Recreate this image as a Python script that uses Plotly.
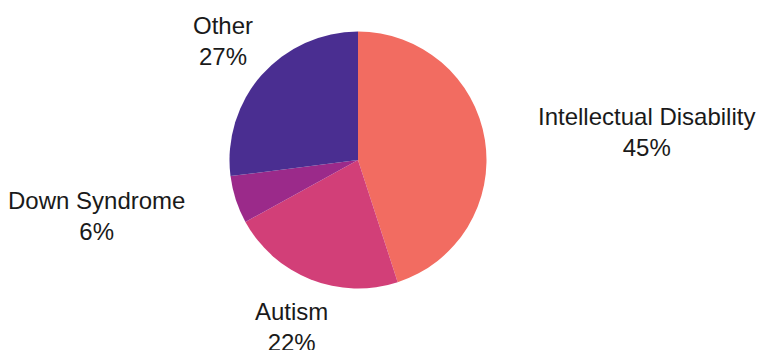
import math
import plotly.graph_objects as go

labels = ["Intellectual Disability", "Autism", "Down Syndrome", "Other"]
values = [45, 22, 6, 27]
colors = ["#F26C61", "#D23F78", "#9B2A8A", "#4A2E91"]

W, H = 757, 350
cx, cy, r = 358, 160, 128.5
label_r = 180
font = dict(family="Liberation Sans, Arial, sans-serif", size=24, color="#1a1a1a")

fig = go.Figure(go.Pie(
    labels=labels, values=values, sort=False, direction="clockwise", rotation=0,
    marker=dict(colors=colors, line=dict(width=0)), textinfo="none",
    hoverinfo="label+percent", showlegend=False,
    domain=dict(x=[(cx - r) / W, (cx + r) / W], y=[(H - cy - r) / H, (H - cy + r) / H]),
))

total = sum(values)
cum = 0
annotations = []
for lab, v in zip(labels, values):
    mid = (cum + v / 2) / total * 2 * math.pi
    cum += v
    sx, sy = math.sin(mid), -math.cos(mid)
    px, py = cx + label_r * sx, cy + label_r * sy
    if sx > 0.9:
        anchor = "left"
    elif sx < -0.9:
        anchor = "right"
    else:
        anchor = "center"
    pct = f"{round(v / total * 100)}%"
    annotations.append(dict(
        text=f"{lab}<br>{pct}", xref="paper", yref="paper",
        x=px / W, y=(H - py) / H, align="center",
        xanchor=anchor, yanchor="middle", showarrow=False, font=font,
    ))

fig.update_layout(
    width=W, height=H, margin=dict(l=0, r=0, t=0, b=0),
    paper_bgcolor="white", plot_bgcolor="white", annotations=annotations,
)
fig.write_html(
    "out.html",
    config={"displayModeBar": False},
    post_script="document.body.style.margin='0';document.body.style.overflow='hidden';",
)
